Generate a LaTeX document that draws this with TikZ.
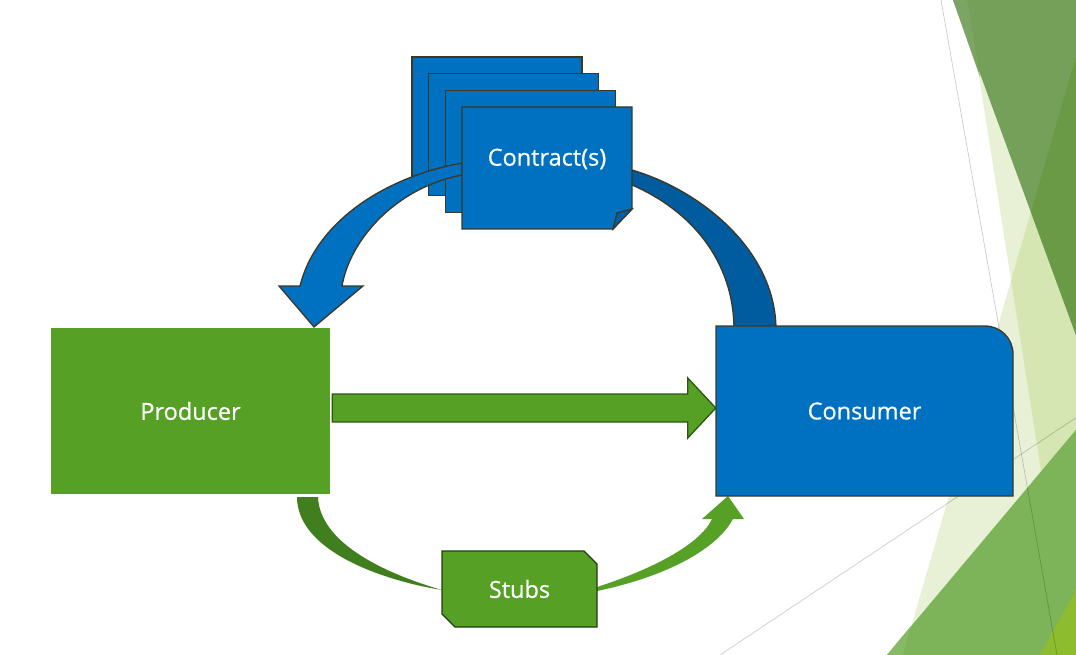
\documentclass[tikz,border=0pt]{standalone}
\usepackage{fontspec}
\setmainfont{Open Sans}
\newfontfamily\labelfont{Open Sans}[FakeBold=0.5]
\usetikzlibrary{calc}

\definecolor{prodgreen}{HTML}{56A026}
\definecolor{darkgreen}{HTML}{417E1E}
\definecolor{edgegreen}{HTML}{2C5713}
\definecolor{stubedge}{HTML}{203F0E}
\definecolor{docblue}{HTML}{0070C0}
\definecolor{bandblue}{HTML}{005C9E}
\definecolor{foldblue}{HTML}{005FA6}
\definecolor{edgebrown}{HTML}{3D3826}
\definecolor{facetgreen}{HTML}{8DBD2E}
\definecolor{facetdark}{HTML}{74A05A}
\definecolor{facetsliver}{HTML}{7CA565}
\definecolor{facetdeep}{HTML}{6A9A46}
\definecolor{facetmid}{HTML}{7DB45A}
\definecolor{facetlight}{HTML}{86BA66}

\tikzset{
  boxtext/.style={text=white, font=\labelfont\fontsize{23.5}{28}\selectfont, inner sep=0pt},
  bluebox/.style={fill=docblue, draw=edgebrown, line width=1.3pt},
  bluebend/.style={fill=docblue, draw=edgebrown, line width=1.3pt, line join=miter},
  greenbox/.style={fill=prodgreen, draw=edgegreen, line width=1.3pt},
  facet/.style={fill=facetgreen, fill opacity=0.2},
  facetline/.style={draw=black, draw opacity=0.2, line width=0.7pt},
}

\begin{document}
\begin{tikzpicture}[x=1pt, y=-1pt]
  % Fondo
  \useasboundingbox (0,0) rectangle (1076,655);
  \fill[white] (0,0) rectangle (1076,655);
  \begin{scope}
    \clip (0,0) rectangle (1076,655);
    \fill[facet] (967,0) -- (1070,655) -- (1080,655) -- (1080,0) -- cycle;
    \fill[facet] (1092,0) -- (903,655) -- (1080,655) -- (1080,0) -- cycle;
    \fill[facetdark] (953,0) -- (1080,0) -- (1080,346) -- cycle;
    \fill[facetsliver] (953,0) -- (967,0) -- (980,77) -- cycle;
    \fill[facetdeep] (1080,42) -- (1031,212) -- (1080,346) -- cycle;
    \fill[facetmid] (1080,425) -- (887,655) -- (1080,655) -- cycle;
    \fill[facetlight] (911,626) -- (887,655) -- (903,655) -- cycle;
    \fill[facetgreen] (1080,583) -- (1040,655) -- (1080,655) -- cycle;
    \draw[facetline] (941,0) -- (1057,655);
    \draw[facetline] (720,655) -- (1080,415);
  \end{scope}

  % Producer
  \node[boxtext, fill=prodgreen, minimum width=279pt, minimum height=166pt] (prod) at (190.5,411) {Producer};

  % Stubs
  \fill[darkgreen] (297,497) .. controls (297,550) and (380,580) .. (442,590)
    .. controls (390,575) and (320,545) .. (318,497) -- cycle;
  \fill[prodgreen] (597,591) .. controls (660,578) and (715,552) .. (733,519)
    -- (744,519) -- (728,496) -- (702,519) -- (712,519)
    .. controls (700,545) and (650,570) .. (597,587) -- cycle;
  \draw[greenbox, draw=stubedge] (442,551) -- (584,551) -- (597,564) -- (597,627) -- (455,627) -- (442,614) -- cycle;
  \node[boxtext, minimum width=155pt, minimum height=76pt] (stubs) at (519.5,589) {Stubs};

  % Contratos
  \foreach \k in {0,1,2}
    \draw[bluebox] ({412+16.67*\k},{57+16.67*\k}) rectangle ++(170,122);
  \draw[bluebend] (462,163) .. controls (380,178) and (315,225) .. (300,286)
    -- (279,286) -- (314,327) -- (363,286) -- (342,286)
    .. controls (350,240) and (395,188) .. (462,175) -- cycle;
  \draw[bluebend, fill=bandblue] (632,170) .. controls (700,190) and (776,250) .. (776,330)
    -- (734,330) .. controls (734,260) and (690,210) .. (632,185) -- cycle;
  \draw[bluebox] (462,107) -- (632,107) -- (632,209) -- (613,229) -- (462,229) -- cycle;
  \draw[bluebox, fill=foldblue] (613,229) -- (617,213) -- (632,209) -- cycle;
  \node[boxtext] (contract) at (547,159) {Contract(s)};

  % Consumer
  \draw[bluebox] (716,496) -- (716,326) -- (985,326) .. controls (1000.5,326) and (1013,338.5) .. (1013,354) -- (1013,496) -- cycle;
  \node[boxtext, minimum width=297pt, minimum height=170pt] (cons) at (864.5,411) {Consumer};

  % Flecha
  \draw[greenbox, line join=miter] ($(prod.east)+(2,-17)$) -- ($(cons.west)+(-28,-17)$)
    -- ($(cons.west)+(-28,-33)$) -- ($(cons.west)+(0,-3)$) -- ($(cons.west)+(-28,27)$)
    -- ($(cons.west)+(-28,11)$) -- ($(prod.east)+(2,11)$) -- cycle;
\end{tikzpicture}
\end{document}
